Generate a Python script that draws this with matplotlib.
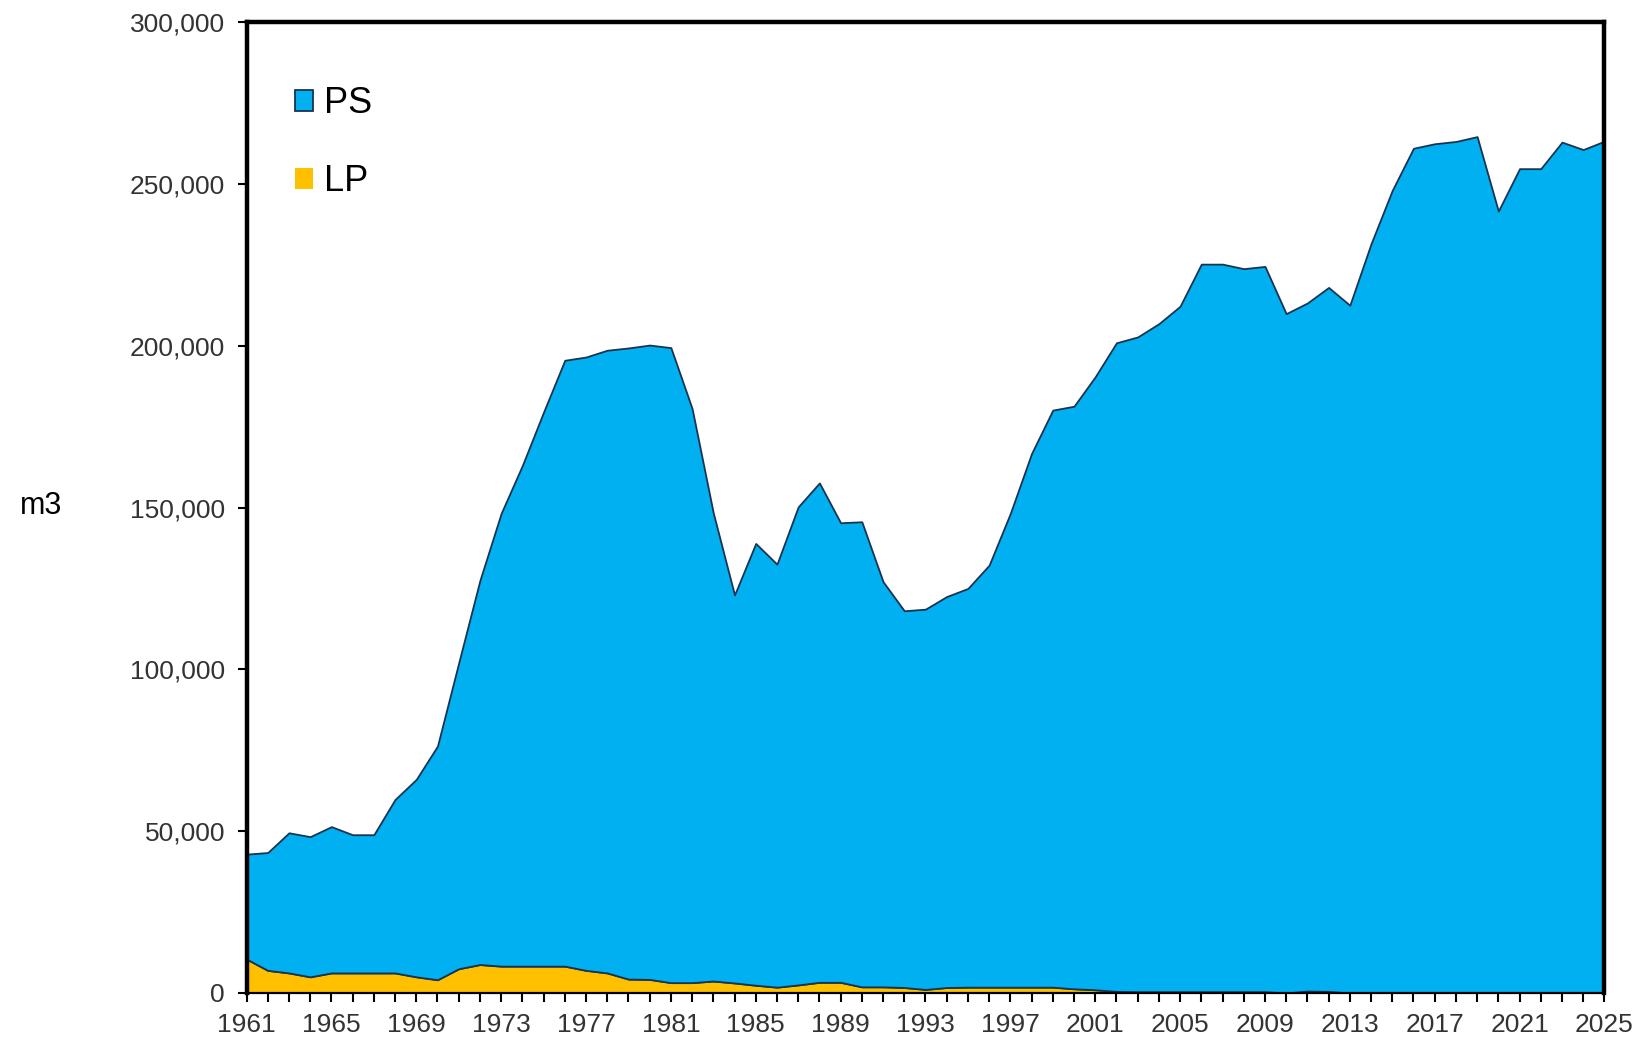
import numpy as np
import matplotlib
matplotlib.use("Agg")
from matplotlib import pyplot as plt
from matplotlib.patches import Patch
from matplotlib.ticker import FuncFormatter, MultipleLocator

plt.rcParams['font.family'] = ['Liberation Sans', 'DejaVu Sans']

years = list(range(1961, 2026))
year_ticks = list(range(1961, 2026, 4))

# LP volume (m3), bottom layer
lp = [10500, 7000, 6200, 5000, 6200, 6200, 6200, 6200, 5000, 4100,
      7500, 8800, 8300, 8300, 8300, 8300, 7000, 6200, 4300, 4200,
      3200, 3200, 3700, 3100, 2400, 1800, 2500, 3300, 3300, 1900,
      1900, 1700, 1100, 1700, 1800, 1800, 1800, 1800, 1800, 1300,
      1000, 500, 400, 400, 400, 400, 400, 400, 400, 0,
      600, 500, 0, 0, 0, 0, 0, 0, 0, 0,
      0, 0, 0, 0, 0]

# PS volume (m3), stacked on top of LP
ps = [32400, 36400, 43300, 43300, 45200, 42700, 42700, 53600, 61000, 72200,
      94500, 118700, 139900, 154700, 171200, 187200, 189500, 192400, 195000, 196000,
      196200, 177400, 144600, 119900, 136500, 130700, 147700, 154300, 142000, 143700,
      125200, 116400, 117500, 120800, 123200, 130400, 146400, 164900, 178300, 180000,
      189400, 200400, 202300, 206400, 211800, 224800, 224800, 223400, 224100, 209900,
      212600, 217500, 212500, 231500, 248000, 261000, 262400, 263100, 264600, 241600,
      254700, 254700, 262900, 260600, 263200]

colors = ["#ffc000", "#00b0f0"]
edge = "#1a3350"

fig = plt.figure(figsize=(16.38, 10.40), dpi=100)
ax = fig.add_axes([0.1505, 0.0452, 0.829, 0.9336])

ax.stackplot(years, lp, ps, colors=colors, edgecolor=edge, linewidth=1.3)

ax.set_xlim(1961, 2025)
ax.set_ylim(0, 300000)

ax.yaxis.set_major_locator(MultipleLocator(50000))
ax.yaxis.set_major_formatter(FuncFormatter(lambda v, p: "{:,.0f}".format(v)))
ax.set_xticks(year_ticks)
ax.set_xticks(years, minor=True)

ax.tick_params(axis="y", labelsize=19, length=6.5, width=1.5, pad=9,
               colors="black", labelcolor="#333333")
ax.tick_params(axis="x", which="both", labelsize=19, length=6.5, width=1.5,
               pad=8, labelcolor="#333333")

for side in ["left", "top", "right"]:
    ax.spines[side].set_linewidth(3.2)
ax.spines["bottom"].set_linewidth(1.6)

ax.set_ylabel("m3", fontsize=22, rotation=0, va="center", ha="center")
ax.yaxis.set_label_coords(-0.151, 0.502)

handles = [Patch(facecolor=colors[1], edgecolor=edge, linewidth=1.3),
           Patch(facecolor=colors[0], edgecolor="none")]
ax.legend(handles, ["PS", "LP"], loc="upper left", bbox_to_anchor=(0.036, 0.934),
          frameon=False, fontsize=26, handlelength=0.5, handleheight=0.5,
          handletextpad=0.3, labelspacing=1.2, borderpad=0, borderaxespad=0)

fig.savefig("out.png", dpi=100)
